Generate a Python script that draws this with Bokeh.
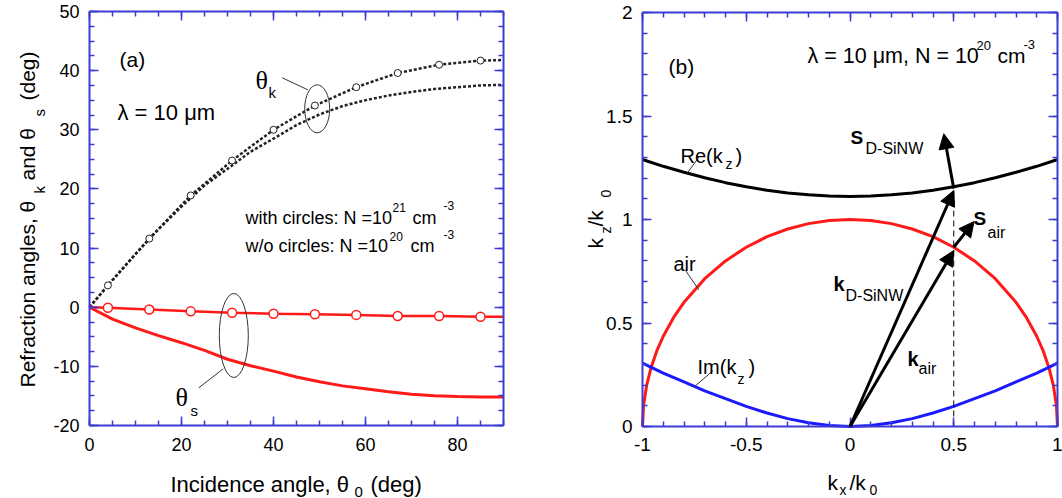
import math
from bokeh.plotting import figure
from bokeh.models import (LinearAxis, SingleIntervalTicker, CustomJSTickFormatter,
                          Label, Arrow, NormalHead, Range1d)
from bokeh.layouts import row
from bokeh.embed import file_html
from bokeh.resources import INLINE

# ---------------- data: panel (a) ----------------
theta0_N21 = [0, 4, 13, 22, 31, 40, 49, 58, 67, 76, 85, 90]
theta_k_N21 = [0, 3.7, 11.6, 18.9, 24.8, 30.0, 34.1, 37.2, 39.6, 41.0, 41.7, 41.8]
theta_s_N21 = [0, -0.1, -0.4, -0.7, -0.95, -1.1, -1.2, -1.3, -1.5, -1.5, -1.6, -1.6]

theta0_N20 = [0, 5, 10, 15, 20, 25, 30, 35, 40, 45, 50, 55, 60, 65, 70, 75, 80, 85, 90]
theta_k_N20 = [0, 4.6, 9.0, 13.2, 17.0, 20.6, 23.4, 26.3, 28.5, 30.8, 32.6, 34.0,
               35.0, 35.8, 36.4, 36.9, 37.2, 37.5, 37.6]
theta_s_N20 = [0, -2.0, -3.5, -4.8, -6.0, -7.3, -8.8, -9.9, -10.8, -11.8, -12.6, -13.3,
               -13.8, -14.3, -14.7, -14.95, -15.1, -15.2, -15.2]

# ---------------- data: panel (b) ----------------
kx = [-1.0, -0.9, -0.8, -0.7, -0.6, -0.5, -0.4, -0.3, -0.2, -0.1, 0.0,
      0.1, 0.2, 0.3, 0.4, 0.5, 0.6, 0.7, 0.8, 0.9, 1.0]
re_kz = [1.29, 1.257, 1.228, 1.202, 1.178, 1.158, 1.141, 1.128, 1.119, 1.113, 1.111,
         1.113, 1.119, 1.128, 1.141, 1.158, 1.178, 1.202, 1.228, 1.257, 1.29]
im_kz = [0.306, 0.258, 0.215, 0.172, 0.135, 0.097, 0.065, 0.038, 0.018, 0.005, 0.0,
         0.005, 0.018, 0.038, 0.065, 0.097, 0.135, 0.172, 0.215, 0.258, 0.306]
kx_air = [-1.0, -0.995, -0.98, -0.96, -0.93, -0.9, -0.85, -0.8, -0.7, -0.6, -0.5, -0.4,
          -0.3, -0.2, -0.1, 0.0, 0.1, 0.2, 0.3, 0.4, 0.5, 0.6, 0.7, 0.8, 0.85, 0.9,
          0.93, 0.96, 0.98, 0.995, 1.0]
kz_air = [0.0, 0.100, 0.199, 0.280, 0.368, 0.436, 0.527, 0.600, 0.714, 0.800, 0.866, 0.917,
          0.954, 0.980, 0.995, 1.0, 0.995, 0.980, 0.954, 0.917, 0.866, 0.800, 0.714, 0.600,
          0.527, 0.436, 0.368, 0.280, 0.199, 0.100, 0.0]
# wave vectors / Poynting vectors at kx = 0.5
kx_point = 0.5
k_dsinw_end = 1.14
k_air_end = 0.85
s_dsinw = [0.5, 1.15, 0.452, 1.414]   # x0, y0, x1, y1
s_air = [0.5, 0.866, 0.598, 0.99]

AX = "#3c3cd4"
SANS = "Liberation Sans"
SERIF = "Liberation Serif"
R = math.pi / 2


def style_axis(ax, interval, minor, loc, bounds, labels=True, fs="18px", standoff=10):
    ax.fixed_location = loc
    ax.bounds = bounds
    ax.ticker = SingleIntervalTicker(interval=interval, num_minor_ticks=minor)
    ax.axis_line_color = AX
    ax.axis_line_width = 2
    ax.major_tick_line_color = AX
    ax.minor_tick_line_color = AX
    ax.major_tick_line_width = 1.5
    ax.minor_tick_line_width = 1.5
    ax.major_tick_in = 9
    ax.major_tick_out = 0
    ax.minor_tick_in = 5
    ax.minor_tick_out = 0
    ax.formatter = CustomJSTickFormatter(code="return String(tick);")
    if labels:
        ax.major_label_text_font = SANS
        ax.major_label_text_font_size = fs
        ax.major_label_text_color = "black"
        ax.major_label_standoff = standoff
    else:
        ax.major_label_text_color = None
        ax.major_label_text_font_size = "1px"
        ax.major_label_standoff = 0


def make_fig(width, xr, yr):
    # the frame fills the whole canvas; axes sit at fixed data locations inside it
    p = figure(width=width, height=498, x_range=xr, y_range=yr,
               output_backend="svg", toolbar_location=None,
               min_border=0, min_border_left=0, min_border_right=0,
               min_border_top=0, min_border_bottom=0)
    p.grid.visible = False
    p.outline_line_color = None
    p.background_fill_color = "white"
    p.border_fill_color = "white"
    return p


def lab(p, text, x, y, size, font=SANS, style="normal", angle=0.0):
    p.add_layout(Label(x=x, y=y, text=text, text_font=font,
                       text_font_size=f"{size}px", text_font_style=style,
                       angle=angle, text_align="left", text_baseline="alphabetic",
                       text_color="black"))


# ================= panel (a) =================
def xa(px):
    return (px - 89) * 90.0 / 414


def ya(py):
    return 50 - (py - 11) * 70.0 / 414


pa = make_fig(530, Range1d(xa(0), xa(530)), Range1d(ya(498), ya(0)))
style_axis(pa.xaxis[0], 20, 4, -20, (0, 90), fs="18px", standoff=12)
style_axis(pa.yaxis[0], 10, 4, 0, (-20, 50), fs="18px", standoff=10)
top_a = LinearAxis()
style_axis(top_a, 20, 4, 50, (0, 90), labels=False)
pa.add_layout(top_a, "above")
right_a = LinearAxis()
style_axis(right_a, 10, 4, 90, (-20, 50), labels=False)
pa.add_layout(right_a, "right")

pa.line(theta0_N20, theta_k_N20, line_color="#222222", line_width=2.5, line_dash="3 2")
pa.line(theta0_N21, theta_k_N21, line_color="#222222", line_width=2.5, line_dash="3 2")
pa.line(theta0_N20, theta_s_N20, line_color="#ff1a1a", line_width=3)
pa.line(theta0_N21, theta_s_N21, line_color="#ff1a1a", line_width=2.5)
pa.scatter(theta0_N21[1:-1], theta_k_N21[1:-1], marker="circle", size=7,
           fill_color="white", line_color="#222222", line_width=1)
pa.scatter(theta0_N21[1:-1], theta_s_N21[1:-1], marker="circle", size=9,
           fill_color="white", line_color="#ff1a1a", line_width=1.5)

pa.ellipse(x=[xa(316.7), xa(233.3)], y=[ya(108.3), ya(335)],
           width=[25 * 90 / 414, 29 * 90 / 414], height=[48 * 70 / 414, 84 * 70 / 414],
           fill_color=None, line_color="#333333", line_width=1)
pa.segment(x0=[xa(281.7), xa(198.3)], y0=[ya(77.3), ya(387.3)],
           x1=[xa(307.3), xa(222.7)], y1=[ya(89.3), ya(368.3)],
           line_color="#333333", line_width=1)

lab(pa, "(a)", xa(119), ya(59), 21)
lab(pa, "λ = 10 μm", xa(117), ya(112), 22)
lab(pa, "θ", xa(255), ya(80), 26, font=SERIF)
lab(pa, "k", xa(268), ya(92), 15)
lab(pa, "θ", xa(175), ya(397), 26, font=SERIF)
lab(pa, "s", xa(190), ya(410), 15)
lab(pa, "with circles: N =10", xa(245), ya(217), 18)
lab(pa, "21", xa(392), ya(207), 12)
lab(pa, "cm", xa(412), ya(217), 18)
lab(pa, "-3", xa(443), ya(205), 12)
lab(pa, "w/o circles: N =10", xa(245), ya(245), 18)
lab(pa, "20", xa(389), ya(236), 12)
lab(pa, "cm", xa(410), ya(245), 18)
lab(pa, "-3", xa(443), ya(234), 12)

# axis titles (a)
lab(pa, "Incidence angle, θ", xa(170), ya(484), 22)
lab(pa, "0", xa(354), ya(491), 15)
lab(pa, "(deg)", xa(370), ya(484), 22)
lab(pa, "Refraction angles, θ", xa(27), ya(387), 21, angle=R)
lab(pa, "k", xa(39), ya(193), 15, angle=R)
lab(pa, "and θ", xa(27), ya(180), 21, angle=R)
lab(pa, "s", xa(39), ya(116), 15, angle=R)
lab(pa, "(deg)", xa(27), ya(100), 21, angle=R)


# ================= panel (b) =================
def xb(px):
    return -1 + (px - 642) * 2.0 / 415


def yb(py):
    return 2 - (py - 12) * 2.0 / 414


pb = make_fig(532, Range1d(xb(530), xb(1062)), Range1d(yb(498), yb(0)))
style_axis(pb.xaxis[0], 0.5, 5, 0, (-1, 1), fs="19px", standoff=11)
style_axis(pb.yaxis[0], 0.5, 5, -1, (0, 2), fs="19px", standoff=10)
top_b = LinearAxis()
style_axis(top_b, 0.5, 5, 2, (-1, 1), labels=False)
pb.add_layout(top_b, "above")
right_b = LinearAxis()
style_axis(right_b, 0.5, 5, 1, (0, 2), labels=False)
pb.add_layout(right_b, "right")

pb.line(kx, re_kz, line_color="black", line_width=3)
pb.line(kx_air, kz_air, line_color="#ff1a1a", line_width=3)
pb.line(kx, im_kz, line_color="#1a1aff", line_width=3)

pb.segment(x0=[kx_point], y0=[0], x1=[kx_point], y1=[re_kz[15]],
           line_color="black", line_width=1, line_dash="6 4")

for (x0, y0, x1, y1) in [(0, 0, kx_point, k_dsinw_end), (0, 0, kx_point, k_air_end),
                         tuple(s_dsinw), tuple(s_air)]:
    pb.add_layout(Arrow(end=NormalHead(size=15, fill_color="black", line_color="black"),
                        x_start=x0, y_start=y0, x_end=x1, y_end=y1,
                        line_color="black", line_width=3))

pb.segment(x0=[xb(698.3), xb(685), xb(712.7)], y0=[yb(156.7), yb(270), yb(370)],
           x1=[xb(686.7), xb(698.3), xb(693.3)], y1=[yb(172.7), yb(289.3), yb(386.7)],
           line_color="#333333", line_width=1)

lab(pb, "(b)", xb(668), yb(66), 21)
lab(pb, "λ = 10 μm, N = 10", xb(807), yb(55), 21.5)
lab(pb, "20", xb(976), yb(45), 13)
lab(pb, "cm", xb(997), yb(55), 21)
lab(pb, "-3", xb(1023), yb(44), 13)
lab(pb, "Re(k", xb(680), yb(155), 20)
lab(pb, "z", xb(725), yb(163), 14)
lab(pb, ")", xb(735), yb(155), 20)
lab(pb, "air", xb(673), yb(263), 20)
lab(pb, "Im(k", xb(697), yb(366), 20)
lab(pb, "z", xb(737), yb(378), 14)
lab(pb, ")", xb(748), yb(366), 20)
lab(pb, "S", xb(850), yb(137), 19, style="bold")
lab(pb, "D-SiNW", xb(865), yb(148), 16)
lab(pb, "S", xb(973), yb(218), 19, style="bold")
lab(pb, "air", xb(987), yb(232), 16)
lab(pb, "k", xb(833), yb(283), 20, style="bold")
lab(pb, "D-SiNW", xb(845), yb(295), 16)
lab(pb, "k", xb(907), yb(358), 20, style="bold")
lab(pb, "air", xb(918), yb(368), 16)

# axis titles (b)
lab(pb, "k", xb(827), yb(482), 21)
lab(pb, "x", xb(839), yb(489), 14)
lab(pb, "/k", xb(849), yb(482), 21)
lab(pb, "0", xb(869), yb(489), 14)
lab(pb, "k", xb(595), yb(248), 21, angle=R)
lab(pb, "z", xb(605), yb(233), 14, angle=R)
lab(pb, " /k", xb(595), yb(226), 21, angle=R)
lab(pb, "0", xb(605), yb(197), 14, angle=R)

layout = row(pa, pb)
open("out.html", "w").write(file_html(layout, INLINE))
